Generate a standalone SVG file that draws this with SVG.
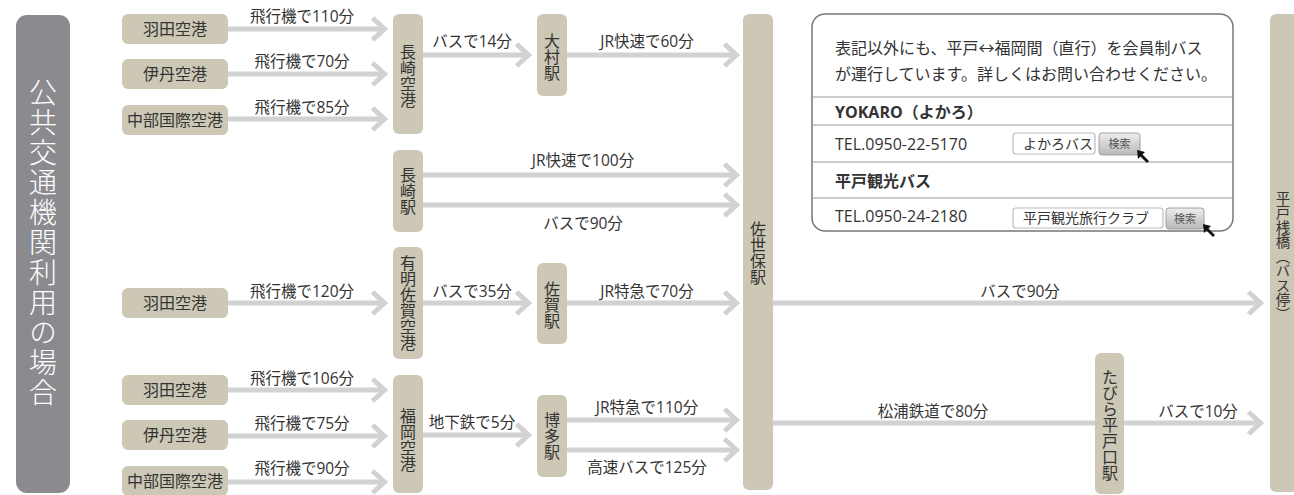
<svg xmlns="http://www.w3.org/2000/svg" width="1294" height="495" viewBox="0 0 1294 495">
<defs>
<style>
.nd{fill:#cdc7b5}
.nt{font-family:"Open Sans","Noto Sans CJK JP",sans-serif;font-size:16px;fill:#333;text-anchor:middle}
.vt{font-family:"Noto Sans CJK JP",sans-serif;font-size:16px;fill:#333;text-anchor:middle;writing-mode:vertical-rl}
.lb{font-family:"Open Sans","Noto Sans CJK JP",sans-serif;font-size:15.5px;fill:#333;text-anchor:middle}
.cn{stroke:#d2d2d2;stroke-width:5;fill:none}
.ar{marker-end:url(#chev)}
.ib{font-family:"Open Sans","Noto Sans CJK JP",sans-serif;font-size:16px;fill:#333}
.bold{font-weight:bold}
.dv{stroke:#9a9a9a;stroke-width:1.2}
.sb{fill:#fff;stroke:#bdbdbd;stroke-width:1.2}
.btn{fill:url(#btng);stroke:#a0a0a0;stroke-width:1}
.st{font-family:"Noto Sans CJK JP",sans-serif;font-size:14px;fill:#333}
.bt{font-family:"Noto Sans CJK JP",sans-serif;font-size:11px;fill:#555;text-anchor:middle}
</style>
<linearGradient id="btng" x1="0" y1="0" x2="0" y2="1">
<stop offset="0" stop-color="#eeeeee"/>
<stop offset="1" stop-color="#b8b8b8"/>
</linearGradient>
<marker id="chev" markerUnits="userSpaceOnUse" markerWidth="24" markerHeight="32" viewBox="0 0 24 32" refX="18" refY="16" orient="auto" overflow="visible">
<path d="M6,5 L18,16 L6,27" fill="none" stroke="#d2d2d2" stroke-width="5"/>
</marker>
</defs>
<rect width="1294" height="495" fill="#ffffff"/>

<g id="connectors">
<line class="cn ar" x1="228" y1="29" x2="384.5" y2="29"/>
<line class="cn ar" x1="228" y1="74" x2="384.5" y2="74"/>
<line class="cn ar" x1="228" y1="119" x2="384.5" y2="119"/>
<line class="cn ar" x1="423" y1="55" x2="528.5" y2="55"/>
<line class="cn ar" x1="567" y1="55" x2="736.5" y2="55"/>
<line class="cn ar" x1="423" y1="175" x2="736.5" y2="175"/>
<line class="cn ar" x1="423" y1="205" x2="736.5" y2="205"/>
<line class="cn ar" x1="228" y1="303" x2="384.5" y2="303"/>
<line class="cn ar" x1="423" y1="303" x2="528.5" y2="303"/>
<line class="cn ar" x1="567" y1="303" x2="736.5" y2="303"/>
<line class="cn ar" x1="773" y1="303" x2="1260.5" y2="303"/>
<line class="cn ar" x1="228" y1="390" x2="384.5" y2="390"/>
<line class="cn ar" x1="228" y1="436" x2="384.5" y2="436"/>
<line class="cn ar" x1="228" y1="482" x2="384.5" y2="482"/>
<line class="cn ar" x1="423" y1="435" x2="528.5" y2="435"/>
<line class="cn ar" x1="567" y1="420" x2="736.5" y2="420"/>
<line class="cn ar" x1="567" y1="450" x2="736.5" y2="450"/>
<line class="cn" x1="773" y1="423" x2="1095" y2="423"/>
<line class="cn ar" x1="1124" y1="423" x2="1260.5" y2="423"/>
<text class="lb" x="302" y="22">飛行機で110分</text>
<text class="lb" x="302" y="67">飛行機で70分</text>
<text class="lb" x="302" y="113">飛行機で85分</text>
<text class="lb" x="472" y="47">バスで14分</text>
<text class="lb" x="647" y="47">JR快速で60分</text>
<text class="lb" x="583" y="166">JR快速で100分</text>
<text class="lb" x="583" y="229">バスで90分</text>
<text class="lb" x="302" y="297">飛行機で120分</text>
<text class="lb" x="472" y="297">バスで35分</text>
<text class="lb" x="647" y="297">JR特急で70分</text>
<text class="lb" x="1020" y="297">バスで90分</text>
<text class="lb" x="302" y="384">飛行機で106分</text>
<text class="lb" x="302" y="429">飛行機で75分</text>
<text class="lb" x="302" y="474">飛行機で90分</text>
<text class="lb" x="472" y="428">地下鉄で5分</text>
<text class="lb" x="647" y="413">JR特急で110分</text>
<text class="lb" x="647" y="473">高速バスで125分</text>
<text class="lb" x="933" y="417">松浦鉄道で80分</text>
<text class="lb" x="1198" y="417">バスで10分</text>
</g>

<g id="title">
<rect x="16" y="15" width="54" height="478" rx="11" fill="#8b8b8f"/>
<text x="43" y="243" style="font-family:'Noto Sans CJK JP',serif;font-size:28px;fill:#fff;text-anchor:middle;writing-mode:vertical-rl;letter-spacing:2px;font-weight:300">公共交通機関利用の場合</text>
</g>

<g id="haneda1"><rect class="nd" x="122" y="14" width="106" height="30" rx="6"/><text class="nt" x="175" y="35">羽田空港</text></g>
<g id="itami1"><rect class="nd" x="122" y="59" width="106" height="30" rx="6"/><text class="nt" x="175" y="80">伊丹空港</text></g>
<g id="chubu1"><rect class="nd" x="122" y="105" width="106" height="30" rx="6"/><text class="nt" x="175" y="126">中部国際空港</text></g>
<g id="nagasaki-airport"><rect class="nd" x="393" y="14" width="30" height="120" rx="6"/><text class="vt" x="408" y="76">長崎空港</text></g>
<g id="omura"><rect class="nd" x="537" y="14" width="30" height="82" rx="6"/><text class="vt" x="552" y="57">大村駅</text></g>
<g id="nagasaki-st"><rect class="nd" x="393" y="150" width="30" height="82" rx="6"/><text class="vt" x="408" y="191">長崎駅</text></g>
<g id="sasebo"><rect class="nd" x="743" y="14" width="30" height="476" rx="6"/><text class="vt" x="758" y="253">佐世保駅</text></g>
<g id="haneda2"><rect class="nd" x="122" y="288" width="106" height="30" rx="6"/><text class="nt" x="175" y="309">羽田空港</text></g>
<g id="ariake"><rect class="nd" x="393" y="247" width="30" height="112" rx="6"/><text class="vt" x="408" y="303">有明佐賀空港</text></g>
<g id="saga"><rect class="nd" x="537" y="263" width="30" height="81" rx="6"/><text class="vt" x="552" y="305">佐賀駅</text></g>
<g id="haneda3"><rect class="nd" x="122" y="375" width="106" height="30" rx="6"/><text class="nt" x="175" y="396">羽田空港</text></g>
<g id="itami2"><rect class="nd" x="122" y="420" width="106" height="30" rx="6"/><text class="nt" x="175" y="441">伊丹空港</text></g>
<g id="chubu2"><rect class="nd" x="122" y="466" width="106" height="30" rx="6"/><text class="nt" x="175" y="487">中部国際空港</text></g>
<g id="fukuoka-airport"><rect class="nd" x="393" y="375" width="30" height="118" rx="6"/><text class="vt" x="408" y="440">福岡空港</text></g>
<g id="hakata"><rect class="nd" x="537" y="395" width="30" height="82" rx="6"/><text class="vt" x="552" y="436">博多駅</text></g>
<g id="tabira"><rect class="nd" x="1095" y="353" width="29" height="141" rx="6"/><text class="vt" x="1110" y="425">たびら平戸口駅</text></g>
<g id="hirado-pier"><rect class="nd" x="1270" y="14" width="40" height="478" rx="6"/><text class="vt" x="1283" y="256" style="font-size:14.5px">平戸桟橋（バス停）</text></g>

<g id="info">
<rect x="812" y="14" width="421" height="217" rx="13" fill="#fff" stroke="#777" stroke-width="1.5"/>
<line class="dv" x1="812.7" y1="97" x2="1232.3" y2="97"/>
<line class="dv" x1="812.7" y1="125" x2="1232.3" y2="125"/>
<line class="dv" x1="812.7" y1="162" x2="1232.3" y2="162"/>
<line class="dv" x1="812.7" y1="198" x2="1232.3" y2="198"/>
<text class="ib" x="835" y="54">表記以外にも、平戸↔福岡間（直行）を会員制バス</text>
<text class="ib" x="835" y="80">が運行しています。詳しくはお問い合わせください。</text>
<text class="ib bold" x="835" y="118">YOKARO（よかろ）</text>
<text class="ib" x="835" y="150">TEL.0950-22-5170</text>
<text class="ib bold" x="835" y="187">平戸観光バス</text>
<text class="ib" x="835" y="222">TEL.0950-24-2180</text>
<rect class="sb" x="1013" y="133" width="82" height="21" rx="3"/>
<text class="st" x="1023" y="149">よかろバス</text>
<rect class="btn" x="1099" y="133" width="41" height="22" rx="3"/>
<text class="bt" x="1119.5" y="148">検索</text>
<path d="M1137,150 L1145,152 L1142.5,154.5 L1149,161 L1147,163 L1140.5,156.5 L1138,159 Z" fill="#111"/>
<rect class="sb" x="1013" y="208" width="150" height="20" rx="3"/>
<text class="st" x="1023" y="223">平戸観光旅行クラブ</text>
<rect class="btn" x="1166" y="208" width="38" height="21" rx="3"/>
<text class="bt" x="1185" y="223">検索</text>
<path d="M1203,224 L1211,226 L1208.5,228.5 L1215,235 L1213,237 L1206.5,230.5 L1204,233 Z" fill="#111"/>
</g>
</svg>
